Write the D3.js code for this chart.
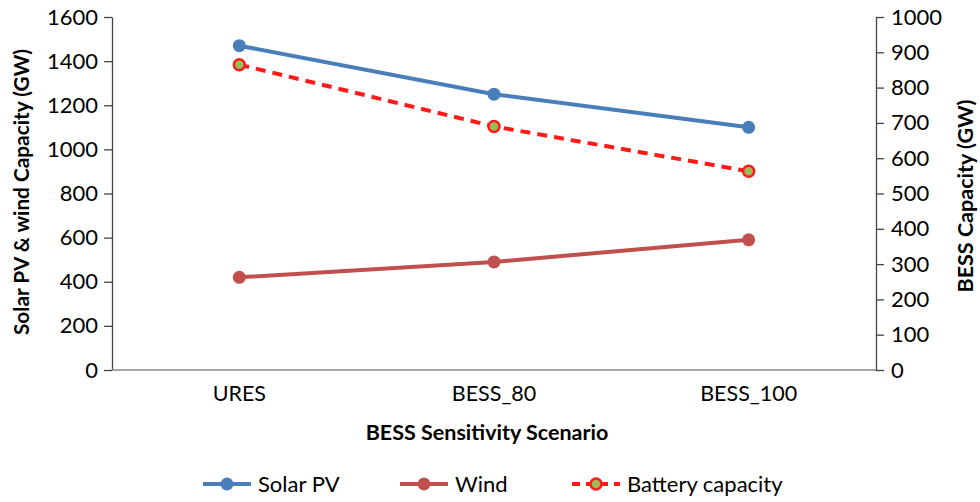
<!DOCTYPE html>
<html>
<head>
<meta charset="utf-8">
<script src="https://cdn.jsdelivr.net/npm/d3@7"></script>
<style>
  body { margin: 0; background: #fff; }
  svg { display: block; font-family: Lato, "Open Sans", sans-serif; }
</style>
</head>
<body>
<svg id="chart" width="980" height="502"></svg>
<script>
// Scenarios along the x axis
const scenarios = ["URES", "BESS_80", "BESS_100"];
// Installed capacity (GW), left axis
const solarPV = [1470, 1250, 1100];
const wind = [420, 490, 590];
// Battery storage capacity (GW), right axis
const battery = [865, 690, 563];
// Axis tick values
const leftTicks = [0, 200, 400, 600, 800, 1000, 1200, 1400, 1600];
const rightTicks = [0, 100, 200, 300, 400, 500, 600, 700, 800, 900, 1000];

const svg = d3.select("#chart");
const m = { left: 112, right: 876, top: 17, bottom: 370 };

const x = d3.scaleBand().domain(scenarios).range([m.left, m.right]);
const yL = d3.scaleLinear().domain([0, 1600]).range([m.bottom, m.top]);
const yR = d3.scaleLinear().domain([0, 1000]).range([m.bottom, m.top]);
const cx = d => x(d) + x.bandwidth() / 2;

const tickFont = 22;
const titleFont = 21.5;
const fontFamily = "Lato, 'Open Sans', sans-serif";

// Left axis
const gL = svg.append("g").attr("transform", `translate(${m.left},0)`)
  .call(d3.axisLeft(yL).tickValues(leftTicks).tickFormat(d3.format("d"))
    .tickSize(8).tickPadding(6).tickSizeOuter(0));
// Right axis
const gR = svg.append("g").attr("transform", `translate(${m.right},0)`)
  .call(d3.axisRight(yR).tickValues(rightTicks).tickFormat(d3.format("d"))
    .tickSize(8).tickPadding(7).tickSizeOuter(0));
[gL, gR].forEach(g => {
  g.select(".domain").attr("stroke", "#444").attr("stroke-width", 1.3);
  g.selectAll(".tick line").attr("stroke", "#444").attr("stroke-width", 1.3);
  g.selectAll(".tick text").attr("font-size", tickFont).attr("fill", "#000")
    .attr("font-family", fontFamily);
});

// Bottom axis line and category labels
svg.append("line")
  .attr("x1", m.left).attr("x2", m.right)
  .attr("y1", m.bottom).attr("y2", m.bottom)
  .attr("stroke", "#888").attr("stroke-width", 1.3);
svg.append("g").selectAll("text").data(scenarios).join("text")
  .attr("x", d => cx(d)).attr("y", 401)
  .attr("text-anchor", "middle").attr("font-size", 21.5)
  .text(d => d);

// Axis titles
svg.append("text")
  .attr("transform", `translate(29,192) rotate(-90)`)
  .attr("text-anchor", "middle").attr("font-size", 20.8).attr("font-weight", "bold")
  .text("Solar PV & wind Capacity (GW)");
svg.append("text")
  .attr("transform", `translate(973,196) rotate(-90)`)
  .attr("text-anchor", "middle").attr("font-size", titleFont).attr("font-weight", "bold")
  .text("BESS Capacity (GW)");
svg.append("text")
  .attr("x", 487).attr("y", 440)
  .attr("text-anchor", "middle").attr("font-size", titleFont).attr("font-weight", "bold")
  .text("BESS Sensitivity Scenario");

// Series
const series = [
  { name: "Solar PV", values: solarPV, y: yL, stroke: "#4a7ebb", fill: "#4a7ebb", dash: null, mStroke: "#4a7ebb" },
  { name: "Wind", values: wind, y: yL, stroke: "#c0504d", fill: "#c0504d", dash: null, mStroke: "#c0504d" },
  { name: "Battery capacity", values: battery, y: yR, stroke: "#ff1a1a", fill: "#9bbb59", dash: "10,7", mStroke: "#ff1a1a" }
];

series.forEach(s => {
  const pts = scenarios.map((c, i) => [cx(c), s.y(s.values[i])]);
  svg.append("path")
    .attr("d", d3.line()(pts))
    .attr("fill", "none").attr("stroke", s.stroke).attr("stroke-width", 4)
    .attr("stroke-dasharray", s.dash);
  svg.append("g").selectAll("circle").data(pts).join("circle")
    .attr("cx", d => d[0]).attr("cy", d => d[1])
    .attr("r", s.fill === s.mStroke ? 6.5 : 5.5)
    .attr("fill", s.fill).attr("stroke", s.mStroke).attr("stroke-width", s.fill === s.mStroke ? 0 : 2.5);
});

// Legend
const legendX = [203, 400, 572];
const legendY = 484;
series.forEach((s, i) => {
  const g = svg.append("g").attr("transform", `translate(${legendX[i]},${legendY})`);
  g.append("line").attr("x1", 0).attr("x2", 48).attr("y1", 0).attr("y2", 0)
    .attr("stroke", s.stroke).attr("stroke-width", 4).attr("stroke-dasharray", s.dash ? "8,6" : null);
  g.append("circle").attr("cx", 24).attr("cy", 0)
    .attr("r", s.fill === s.mStroke ? 6.5 : 5.5)
    .attr("fill", s.fill).attr("stroke", s.mStroke).attr("stroke-width", s.fill === s.mStroke ? 0 : 2.5);
  g.append("text").attr("x", 55).attr("y", 8).attr("font-size", tickFont).text(s.name);
});
</script>
</body>
</html>
